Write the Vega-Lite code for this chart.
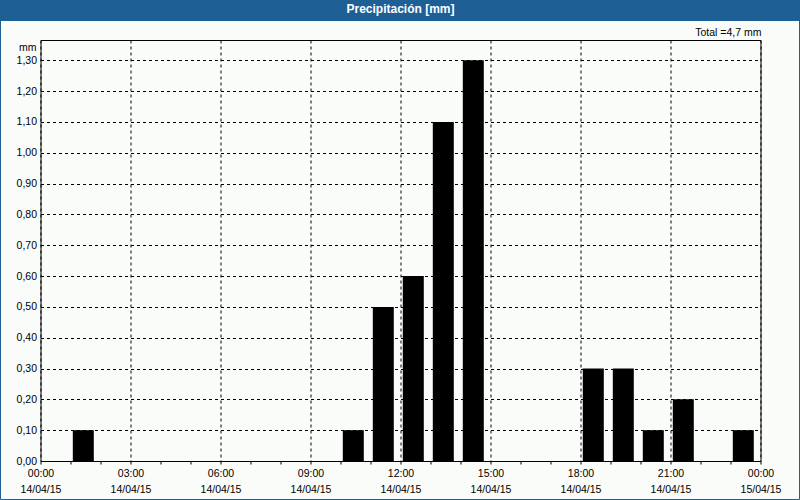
{
  "$schema": "https://vega.github.io/schema/vega-lite/v6.json",
  "autosize": "none",
  "width": 720,
  "height": 421,
  "padding": {"left": 40.5, "top": 40, "right": 39.5, "bottom": 39},
  "background": "#FAFCFA",
  "title": {"text": "Precipitación [mm]", "color": "white", "fontSize": 12, "fontWeight": "bold", "font": "Liberation Sans", "anchor": "middle", "frame": "group", "offset": -16},
  "config": {
    "view": {"stroke": "black", "strokeWidth": 1, "fill": "#FAFCFA"},
    "font": "Liberation Sans"
  },
  "data": {"values": [
    {"time": "2015-04-14T01:00:00Z", "mm": 0.1},
    {"time": "2015-04-14T10:00:00Z", "mm": 0.1},
    {"time": "2015-04-14T11:00:00Z", "mm": 0.5},
    {"time": "2015-04-14T12:00:00Z", "mm": 0.6},
    {"time": "2015-04-14T13:00:00Z", "mm": 1.1},
    {"time": "2015-04-14T14:00:00Z", "mm": 1.3},
    {"time": "2015-04-14T18:00:00Z", "mm": 0.3},
    {"time": "2015-04-14T19:00:00Z", "mm": 0.3},
    {"time": "2015-04-14T20:00:00Z", "mm": 0.1},
    {"time": "2015-04-14T21:00:00Z", "mm": 0.2},
    {"time": "2015-04-14T23:00:00Z", "mm": 0.1}
  ]},
  "layer": [
    {
      "data": {"values": [{}]},
      "mark": {"type": "rect", "fill": "#1E5F96", "clip": false},
      "encoding": {"x": {"value": -40.5}, "x2": {"value": 759.5}, "y": {"value": -40}, "y2": {"value": -19}}
    },
    {
      "data": {"values": [{}]},
      "mark": {"type": "rect", "fill": null, "stroke": "#1E5F96", "strokeWidth": 1, "clip": false},
      "encoding": {"x": {"value": -40}, "x2": {"value": 759}, "y": {"value": -39.5}, "y2": {"value": 459.5}}
    },
    {
      "mark": {"type": "bar", "color": "black", "width": 21, "xOffset": 12.8},
      "encoding": {
        "x": {
          "field": "time", "type": "temporal",
          "scale": {"type": "utc", "padding": 0, "domain": [
            {"year": 2015, "month": 4, "date": 14, "hours": 0, "utc": true},
            {"year": 2015, "month": 4, "date": 15, "hours": 0, "utc": true}
          ]},
          "axis": {
            "title": null,
            "domain": false,
            "tickCount": 40,
            "values": [
              {"year": 2015, "month": 4, "date": 14, "hours": 0, "utc": true},
              {"year": 2015, "month": 4, "date": 14, "hours": 1, "utc": true},
              {"year": 2015, "month": 4, "date": 14, "hours": 2, "utc": true},
              {"year": 2015, "month": 4, "date": 14, "hours": 3, "utc": true},
              {"year": 2015, "month": 4, "date": 14, "hours": 4, "utc": true},
              {"year": 2015, "month": 4, "date": 14, "hours": 5, "utc": true},
              {"year": 2015, "month": 4, "date": 14, "hours": 6, "utc": true},
              {"year": 2015, "month": 4, "date": 14, "hours": 7, "utc": true},
              {"year": 2015, "month": 4, "date": 14, "hours": 8, "utc": true},
              {"year": 2015, "month": 4, "date": 14, "hours": 9, "utc": true},
              {"year": 2015, "month": 4, "date": 14, "hours": 10, "utc": true},
              {"year": 2015, "month": 4, "date": 14, "hours": 11, "utc": true},
              {"year": 2015, "month": 4, "date": 14, "hours": 12, "utc": true},
              {"year": 2015, "month": 4, "date": 14, "hours": 13, "utc": true},
              {"year": 2015, "month": 4, "date": 14, "hours": 14, "utc": true},
              {"year": 2015, "month": 4, "date": 14, "hours": 15, "utc": true},
              {"year": 2015, "month": 4, "date": 14, "hours": 16, "utc": true},
              {"year": 2015, "month": 4, "date": 14, "hours": 17, "utc": true},
              {"year": 2015, "month": 4, "date": 14, "hours": 18, "utc": true},
              {"year": 2015, "month": 4, "date": 14, "hours": 19, "utc": true},
              {"year": 2015, "month": 4, "date": 14, "hours": 20, "utc": true},
              {"year": 2015, "month": 4, "date": 14, "hours": 21, "utc": true},
              {"year": 2015, "month": 4, "date": 14, "hours": 22, "utc": true},
              {"year": 2015, "month": 4, "date": 14, "hours": 23, "utc": true},
              {"year": 2015, "month": 4, "date": 15, "hours": 0, "utc": true}
            ],
            "labelExpr": "utchours(datum.value) % 3 == 0 ? [utcFormat(datum.value, '%H:%M'), utcFormat(datum.value, '%d/%m/%y')] : ''",
            "labelFont": "Liberation Sans",
            "labelFontSize": 10.5,
            "labelColor": "black",
            "labelLineHeight": 16,
            "labelPadding": 4,
            "labelFlush": false,
            "labelOverlap": false,
            "tickColor": "black",
            "tickSize": 3,
            "grid": true,
            "gridColor": "black",
            "gridDash": [3, 3],
            "gridOpacity": {"condition": {"test": "utchours(datum.value) % 3 == 0", "value": 1}, "value": 0}
          }
        },
        "y": {
          "field": "mm", "type": "quantitative",
          "scale": {"domain": [0, 1.366], "nice": false},
          "axis": {
            "tickCount": 40,
            "values": [0, 0.1, 0.2, 0.3, 0.4, 0.5, 0.6, 0.7, 0.8, 0.9, 1.0, 1.1, 1.2, 1.3],
            "labelExpr": "replace(format(datum.value, '.2f'), '.', ',')",
            "labelFont": "Liberation Sans",
            "labelFontSize": 10.5,
            "labelColor": "black",
            "labelPadding": 4,
            "labelOverlap": false,
            "ticks": false,
            "domain": false,
            "grid": true,
            "gridColor": "black",
            "gridDash": [3, 3],
            "title": "mm",
            "titleAngle": 0,
            "titleAlign": "right",
            "titleBaseline": "alphabetic",
            "titleX": -4.5,
            "titleY": 10,
            "titleFont": "Liberation Sans",
            "titleFontSize": 10.5,
            "titleFontWeight": "normal",
            "titleColor": "black"
          }
        }
      }
    },
    {
      "transform": [
        {"aggregate": [{"op": "sum", "field": "mm", "as": "total"}]},
        {"calculate": "'Total =' + replace(format(datum.total, '.1f'), '.', ',') + ' mm'", "as": "label"}
      ],
      "mark": {"type": "text", "align": "right", "baseline": "alphabetic", "dy": -4, "dx": 1, "clip": false, "font": "Liberation Sans", "fontSize": 10.5, "color": "black"},
      "encoding": {
        "x": {"datum": {"year": 2015, "month": 4, "date": 15, "hours": 0, "utc": true}},
        "y": {"datum": 1.366},
        "text": {"field": "label"}
      }
    }
  ]
}
